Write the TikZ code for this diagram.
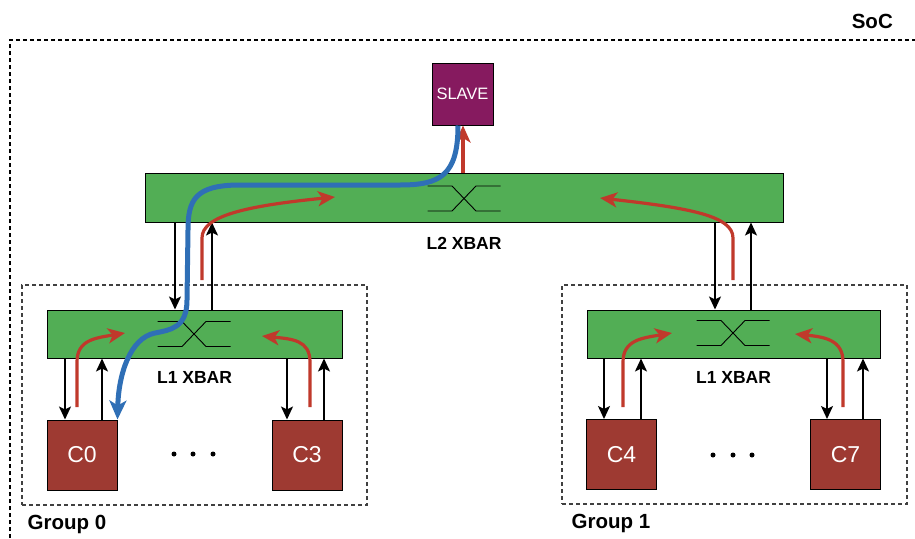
\documentclass[tikz,border=0pt]{standalone}
\usepackage{fontspec}
\setmainfont{Liberation Sans}
\usepackage{xcolor}
\usepackage{tikz}
\usetikzlibrary{arrows.meta}

\definecolor{xbargreen}{HTML}{52AE55}
\definecolor{slavepurple}{HTML}{861A5F}
\definecolor{corered}{HTML}{9E3A32}
\definecolor{pathred}{HTML}{C0392B}
\definecolor{pathblue}{HTML}{2F6FB6}

\tikzset{
	xbar/.style={draw=black, line width=1pt, fill=xbargreen},
	core/.style={draw=black, line width=1pt, fill=corered, minimum width=70pt, minimum height=70pt, text=white, font=\fontsize{23}{26}\selectfont},
	grpbox/.style={draw=black!75, line width=1.1pt, dash pattern=on 4pt off 3pt},
	lbl/.style={font=\bfseries\fontsize{17.5}{20}\selectfont, inner sep=0pt},
	biglbl/.style={font=\bfseries\fontsize{20.5}{23}\selectfont, inner sep=0pt},
	blk/.style={line width=1.8pt, -{Stealth[length=13pt,width=12pt,inset=3pt]}},
	redpath/.style={pathred, line width=3.2pt, -{Stealth[length=17pt,width=15pt,inset=4.5pt]}},
	bluepath/.style={pathblue, line width=5pt, -{Stealth[length=19pt,width=17pt,inset=5pt]}},
}

\begin{document}
\begin{tikzpicture}[x=1pt, y=-1pt]
			\useasboundingbox (0,0) rectangle (915,538);
			
			% SoC
			\draw[line width=1.1pt, dash pattern=on 4pt off 3pt] (10,538) -- (10,40) -- (915,40);
			\node[biglbl, anchor=east] (soc) at (893,21) {SoC};
			
			\node[grpbox, minimum width=345pt, minimum height=220pt] (grp0) at (194.5,395) {};
			\node[grpbox, minimum width=345pt, minimum height=219pt] (grp1) at (734.5,394.5) {};
			\node[biglbl, anchor=west] (g0lbl) at ([xshift=6pt,yshift=-19pt]grp0.south west) {Group 0};
			\node[biglbl, anchor=west] (g1lbl) at ([xshift=10pt,yshift=-19pt]grp1.south west) {Group 1};
			
			\node[draw=black, line width=1pt, fill=slavepurple, minimum width=61pt, minimum height=62pt, text=white, font=\fontsize{16.5}{19}\selectfont] (slave) at (462.5,94) {SLAVE};
			\node[xbar, minimum width=638pt, minimum height=49pt] (l2) at (464,197.5) {};
			\node[xbar, minimum width=295pt, minimum height=48pt] (l1a) at (194.5,334) {};
			\node[xbar, minimum width=293pt, minimum height=48pt] (l1b) at (733.5,334) {};
			\node[lbl] (l2lbl) at ([yshift=-21pt]l2.south) {L2 XBAR};
			\node[lbl] (l1albl) at ([yshift=-19pt]l1a.south) {L1 XBAR};
			\node[lbl] (l1blbl) at ([yshift=-19pt]l1b.south) {L1 XBAR};
			
			\node[core] (c0) at (82,455) {C0};
			\node[core] (c3) at (307,455) {C3};
			\node[core] (c4) at (621.5,454.5) {C4};
			\node[core] (c7) at (845.5,454.5) {C7};
			
			\foreach \dx in {174,193,213} \fill (\dx,454) circle (2.5);
			\foreach \dx in {713,733,752} \fill (\dx,455) circle (2.5);
			
			% crossbar symbols
			\foreach \cx/\cy in {464/198.5, 194/334, 733/333} {
				\draw[line width=0.9pt] (\cx-36.5,\cy-12.5) -- (\cx-12,\cy-12.5) -- (\cx+12,\cy+12.5) -- (\cx+36.5,\cy+12.5);
				\draw[line width=0.9pt] (\cx-36.5,\cy+12.5) -- (\cx-12,\cy+12.5) -- (\cx+12,\cy-12.5) -- (\cx+36.5,\cy-12.5);
			}
			
			% request / response links
			\foreach \hi/\lo/\dn/\up in {l2/l1a/175/212, l2/l1b/715/751, l1a/c0/65/102, l1a/c3/287/324, l1b/c4/604/641, l1b/c7/827/863} {
				\draw[blk] (\hi.south -| \dn,0) -- (\lo.north -| \dn,0);
				\draw[blk] (\lo.north -| \up,0) -- (\hi.south -| \up,0);
			}
			
			\coordinate (ra0) at (202,280); \coordinate (ra1) at (335,197);
			\coordinate (rb0) at (733,280); \coordinate (rb1) at (600,198);
			\coordinate (rc0) at (77,407);  \coordinate (rc1) at (125,333);
			\coordinate (rd0) at (310,407); \coordinate (rd1) at (262,336);
			\coordinate (re0) at (623,407); \coordinate (re1) at (672,333);
			\coordinate (rf0) at (843,407); \coordinate (rf1) at (795,334);
			\foreach \s/\t/\len/\cx/\cy in {ra0/ra1/42/-90/9, rb0/rb1/42/90/10, rc0/rc1/45/-30/5, rd0/rd1/45/30/3, re0/re1/45/-30/5, rf0/rf1/45/30/3} {
				\draw[redpath] (\s) -- ++(0,-\len) .. controls +(0,-22) and +(\cx,\cy) .. (\t);
			}
			\draw[redpath] (l2.north -| 463,0) -- (slave.south -| 463,0);
			
			\draw[bluepath] (slave.south -| 458,0) .. controls +(0,50) and +(40,0) .. (400,185) -- (240,185) .. controls +(-45,0) and +(0,-30) .. (188,230) -- (187,300) .. controls +(0,28) and +(15,-3) .. (155,333) .. controls +(-25,5) and +(1,-45) .. (c0.north east);
\end{tikzpicture}
\end{document}
